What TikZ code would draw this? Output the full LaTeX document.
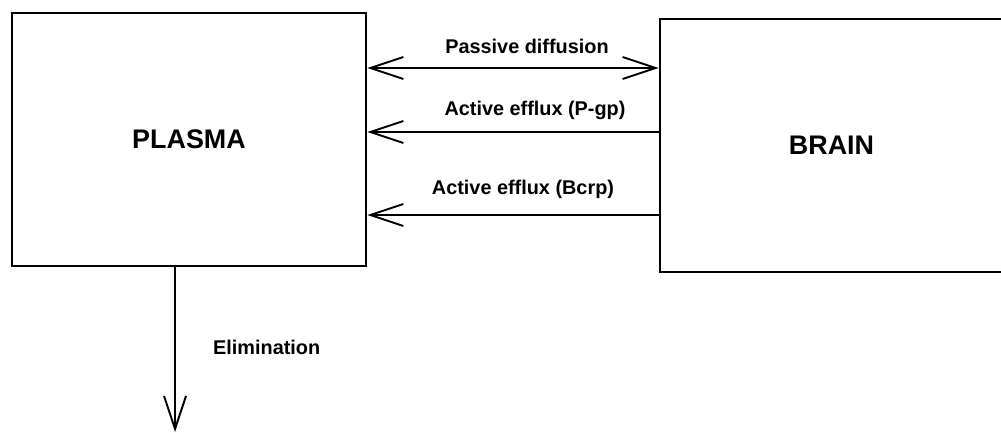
\documentclass[tikz,border=0pt]{standalone}
\usepackage{fontspec}
\setmainfont{Liberation Sans}
\usetikzlibrary{arrows.meta}
\begin{document}
\begin{tikzpicture}[
    compartment/.style={draw, line width=1.5pt, minimum width=7.08cm, minimum height=5.06cm, font=\fontsize{15.3}{18}\selectfont\bfseries},
    flow/.style={line width=1.1pt, -{Straight Barb[length=0.66cm, width=0.44cm, line width=1.1pt]}},
    twoway/.style={line width=1.1pt, {Straight Barb[length=0.66cm, width=0.44cm, line width=1.1pt]}-{Straight Barb[length=0.66cm, width=0.44cm, line width=1.1pt]}},
    lbl/.style={font=\fontsize{11.3}{13}\selectfont\bfseries},
  ]
    \useasboundingbox (0,0) rectangle (20.02,-8.66);
    \node[compartment] (plasma) at (3.78,-2.79) {PLASMA};
    \node[compartment, minimum width=6.86cm] (brain) at (16.63,-2.91) {BRAIN};
    \coordinate (out) at (3.5,-8.64);
    \draw[twoway] (plasma.east |- 0,-1.36) -- (brain.west |- 0,-1.36);
    \draw[flow] (brain.west |- 0,-2.64) -- (plasma.east |- 0,-2.64);
    \draw[flow] (brain.west |- 0,-4.30) -- (plasma.east |- 0,-4.30);
    \draw[flow] (plasma.south -| out) -- (out);
    \node[lbl] (pass) at (10.54,-0.92) {Passive diffusion};
    \node[lbl] (pgp)  at (10.70,-2.20) {Active efflux (P-gp)};
    \node[lbl] (bcrp) at (10.46,-3.78) {Active efflux (Bcrp)};
    \node[lbl, anchor=west] (elim) at (4.14,-6.94) {Elimination};
  \end{tikzpicture}
\end{document}
